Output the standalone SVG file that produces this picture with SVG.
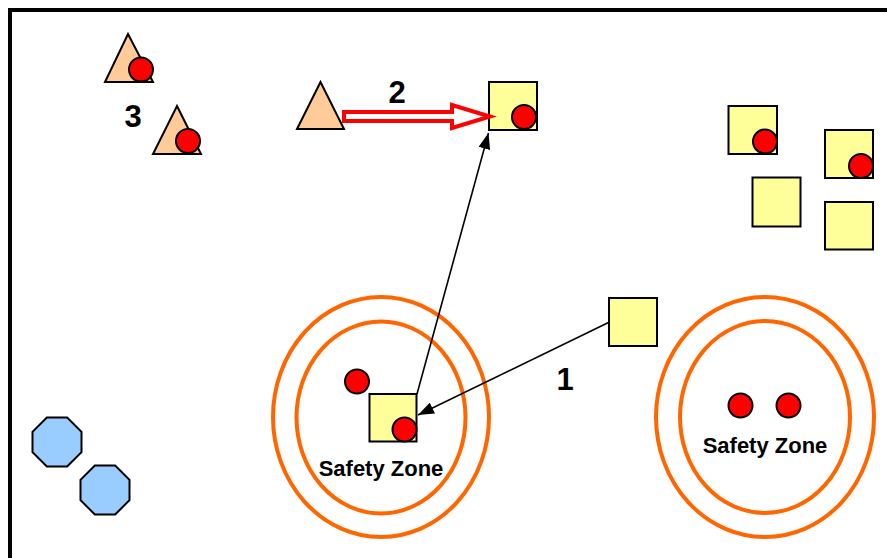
<svg xmlns="http://www.w3.org/2000/svg" width="887" height="558" viewBox="0 0 887 558">
<style>
.tri{fill:#FFCC99;stroke:#000;stroke-width:2;stroke-linejoin:miter}
.sq{fill:#FFFF99;stroke:#000;stroke-width:2}
.dot{fill:#FF0000;stroke:#000;stroke-width:2}
.oct{fill:#99CCFF;stroke:#000;stroke-width:2}
.zone{fill:none;stroke:#FF6600;stroke-width:4}
.lbl{font-family:"Liberation Sans",Arial,sans-serif;font-weight:bold;fill:#000}
.num{font-size:31px;text-anchor:middle}
.zt{font-size:22px;text-anchor:middle}
.conn{stroke:#000;stroke-width:1.6;fill:none}
</style>
<defs>
<marker id="ah" viewBox="0 0 16 12" refX="16" refY="6" markerWidth="16" markerHeight="12" markerUnits="userSpaceOnUse" orient="auto">
<path d="M0,0 L16,6 L0,12 Z" fill="#000"/>
</marker>
</defs>
<rect x="10" y="10" width="900" height="580" fill="#fff" stroke="#000" stroke-width="4"/>

<g id="zone-left">
<ellipse class="zone" cx="381" cy="417" rx="108" ry="120"/>
<ellipse class="zone" cx="381" cy="417.5" rx="84.5" ry="96"/>
<text class="lbl zt" x="381" y="476">Safety Zone</text>
</g>
<g id="zone-right">
<ellipse class="zone" cx="765" cy="417" rx="109" ry="120"/>
<ellipse class="zone" cx="765" cy="417" rx="85" ry="96"/>
<text class="lbl zt" x="765" y="453">Safety Zone</text>
</g>

<g id="tri1">
<polygon class="tri" points="128,34 153,82 105,82"/>
<circle class="dot" cx="141" cy="69.5" r="12"/>
</g>
<g id="tri2">
<polygon class="tri" points="177,106 201,154 153,154"/>
<circle class="dot" cx="188" cy="141" r="12"/>
</g>
<g id="label3"><text class="lbl num" x="133" y="127">3</text></g>

<g id="tri3">
<polygon class="tri" points="320.5,82 344,129 297,129"/>
</g>

<g id="sq-top">
<rect class="sq" x="489" y="82" width="48" height="48"/>
<circle class="dot" cx="524" cy="117" r="12"/>
</g>
<g id="sq-r1">
<rect class="sq" x="728.5" y="106" width="48.5" height="48"/>
<circle class="dot" cx="765" cy="141.5" r="12"/>
</g>
<g id="sq-r2">
<rect class="sq" x="825" y="130" width="48" height="48"/>
<circle class="dot" cx="861" cy="166" r="12"/>
</g>
<g id="sq-r3">
<rect class="sq" x="752.5" y="177.5" width="48" height="49"/>
</g>
<g id="sq-r4">
<rect class="sq" x="825" y="202" width="48" height="47.5"/>
</g>
<g id="sq-mid">
<rect class="sq" x="609" y="298" width="48" height="48"/>
</g>

<g id="dot-left"><circle class="dot" cx="357" cy="381.5" r="12"/></g>
<g id="sq-zone">
<rect class="sq" x="369.5" y="394" width="47" height="47.5"/>
<circle class="dot" cx="404.5" cy="429.5" r="12"/>
</g>
<g id="dots-right">
<circle class="dot" cx="740.5" cy="405.5" r="12"/>
<circle class="dot" cx="788.5" cy="405.5" r="12"/>
</g>

<g id="oct1"><polygon class="oct" points="46.85,417.5 67.15,417.5 81.5,431.85 81.5,452.15 67.15,466.5 46.85,466.5 32.5,452.15 32.5,431.85"/></g>
<g id="oct2"><polygon class="oct" points="94.85,465.5 115.15,465.5 129.5,479.85 129.5,500.15 115.15,514.5 94.85,514.5 80.5,500.15 80.5,479.85"/></g>

<g id="connectors">
<path d="M344,112 L452,112 L452,105 L490,116.5 L452,128 L452,121 L344,121 Z" fill="#fff" stroke="#FF0000" stroke-width="4" stroke-linejoin="miter" stroke-miterlimit="10"/>
<line class="conn" x1="608.5" y1="322.5" x2="418" y2="415" marker-end="url(#ah)"/>
<line class="conn" x1="417" y1="394" x2="488.5" y2="133" marker-end="url(#ah)"/>
<text class="lbl num" x="397" y="103">2</text>
<text class="lbl num" x="565" y="390">1</text>
</g>
</svg>
